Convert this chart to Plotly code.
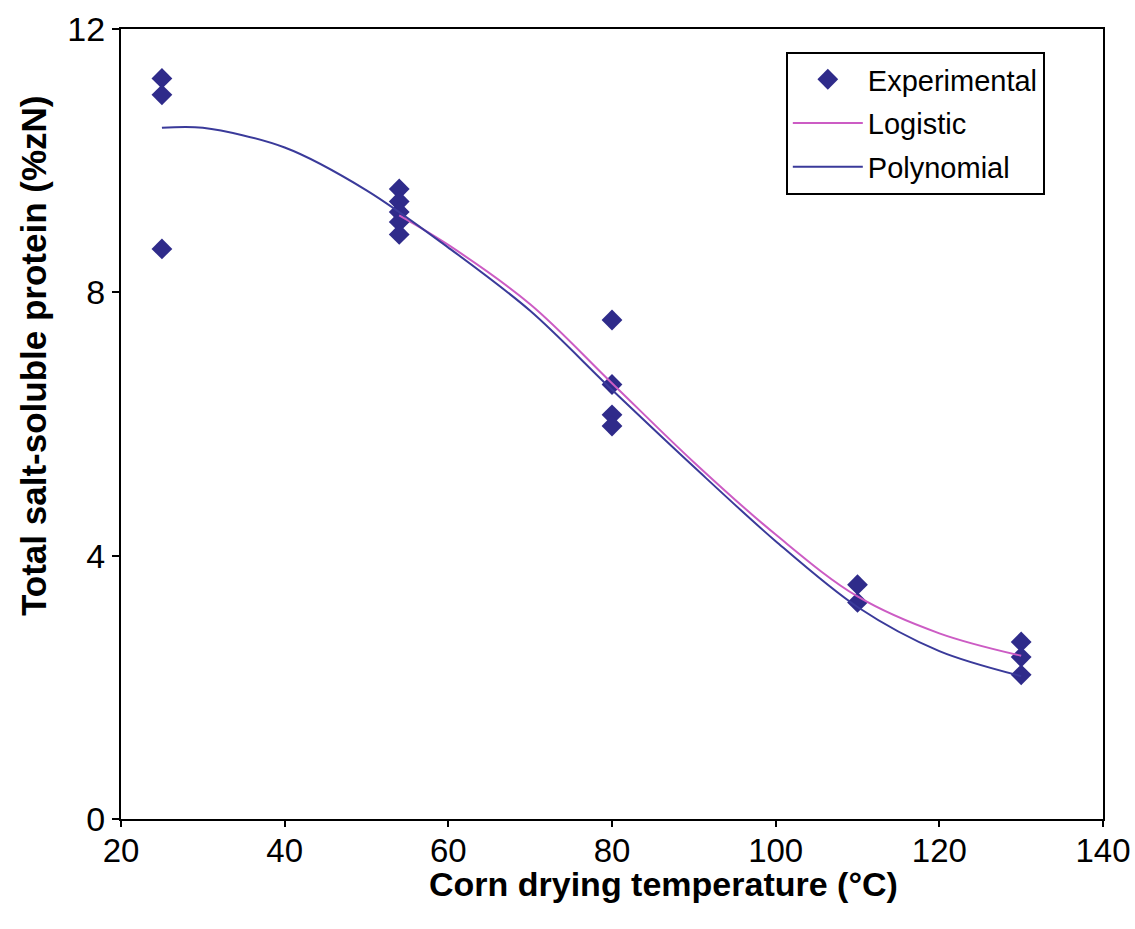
import plotly.graph_objects as go

# Experimental data
exp_x = [25, 25, 25, 54, 54, 54, 54, 54, 80, 80, 80, 80, 110, 110, 130, 130, 130]
exp_y = [11.25, 11.0, 8.66, 9.57, 9.38, 9.22, 9.07, 8.88, 7.58, 6.6, 6.14, 5.97, 3.56, 3.29, 2.69, 2.46, 2.19]

# Logistic fit
log_x = [54, 60, 70, 80, 90, 100, 110, 120, 130]
log_y = [9.17, 8.72, 7.82, 6.62, 5.42, 4.32, 3.38, 2.82, 2.48]

# Polynomial fit
poly_x = [25, 30, 40, 50, 60, 70, 80, 90, 100, 110, 120, 130]
poly_y = [10.5, 10.5, 10.2, 9.55, 8.68, 7.72, 6.52, 5.35, 4.22, 3.22, 2.55, 2.17]

x_ticks = [20, 40, 60, 80, 100, 120, 140]
y_ticks = [0, 4, 8, 12]

x_title = "<b>Corn drying temperature (°C)</b>"
y_title = "<b>Total salt-soluble protein (%zN)</b>"

navy = "#2F2B8A"
pink = "#CC5CC4"
poly_col = "#3A3A9A"

fig = go.Figure()
fig.add_trace(go.Scatter(x=exp_x, y=exp_y, mode="markers", name="Experimental",
                         legendgroup="a",
                         marker=dict(symbol="diamond", size=16, color=navy)))
fig.add_trace(go.Scatter(x=log_x, y=log_y, mode="lines", name="Logistic",
                         legendgroup="b",
                         line=dict(color=pink, width=2, shape="spline", smoothing=1.0)))
fig.add_trace(go.Scatter(x=poly_x, y=poly_y, mode="lines", name="Polynomial",
                         legendgroup="c",
                         line=dict(color=poly_col, width=2, shape="spline", smoothing=0.9)))

font_family = "Liberation Sans, Arial, sans-serif"
fig.update_layout(
    width=1135, height=929,
    margin=dict(l=121, r=32, t=29, b=110),
    paper_bgcolor="white", plot_bgcolor="white",
    font=dict(family=font_family, color="black"),
    showlegend=True,
    legend=dict(x=0.677, y=0.971, xanchor="left", yanchor="top",
                bordercolor="black", borderwidth=2, bgcolor="white",
                font=dict(size=29, family=font_family), itemwidth=70,
                tracegroupgap=3),
    xaxis=dict(range=[20, 140], tickvals=x_ticks, ticks="outside", ticklen=6,
               tickwidth=1.5, tickcolor="black", showline=True, linecolor="black",
               linewidth=2, mirror=True, showgrid=False, zeroline=False,
               automargin=False, tickfont=dict(size=33), ticklabelstandoff=-5),
    yaxis=dict(range=[0, 12], tickvals=y_ticks, ticks="outside", ticklen=7,
               tickwidth=1.5, tickcolor="black", showline=True, linecolor="black",
               linewidth=2, mirror=True, showgrid=False, zeroline=False,
               automargin=False, tickfont=dict(size=34)),
    annotations=[
        dict(text=x_title, xref="paper", yref="paper",
             x=(663 - 121) / 982, y=-(884 - 819) / 790,
             xanchor="center", yanchor="middle", showarrow=False,
             font=dict(size=34, family=font_family, color="black")),
        dict(text=y_title, xref="paper", yref="paper",
             x=-(121 - 33) / 982, y=(819 - 356) / 790, textangle=-90,
             xanchor="center", yanchor="middle", showarrow=False,
             font=dict(size=35, family=font_family, color="black")),
    ],
)

fig.write_html("out.html")
